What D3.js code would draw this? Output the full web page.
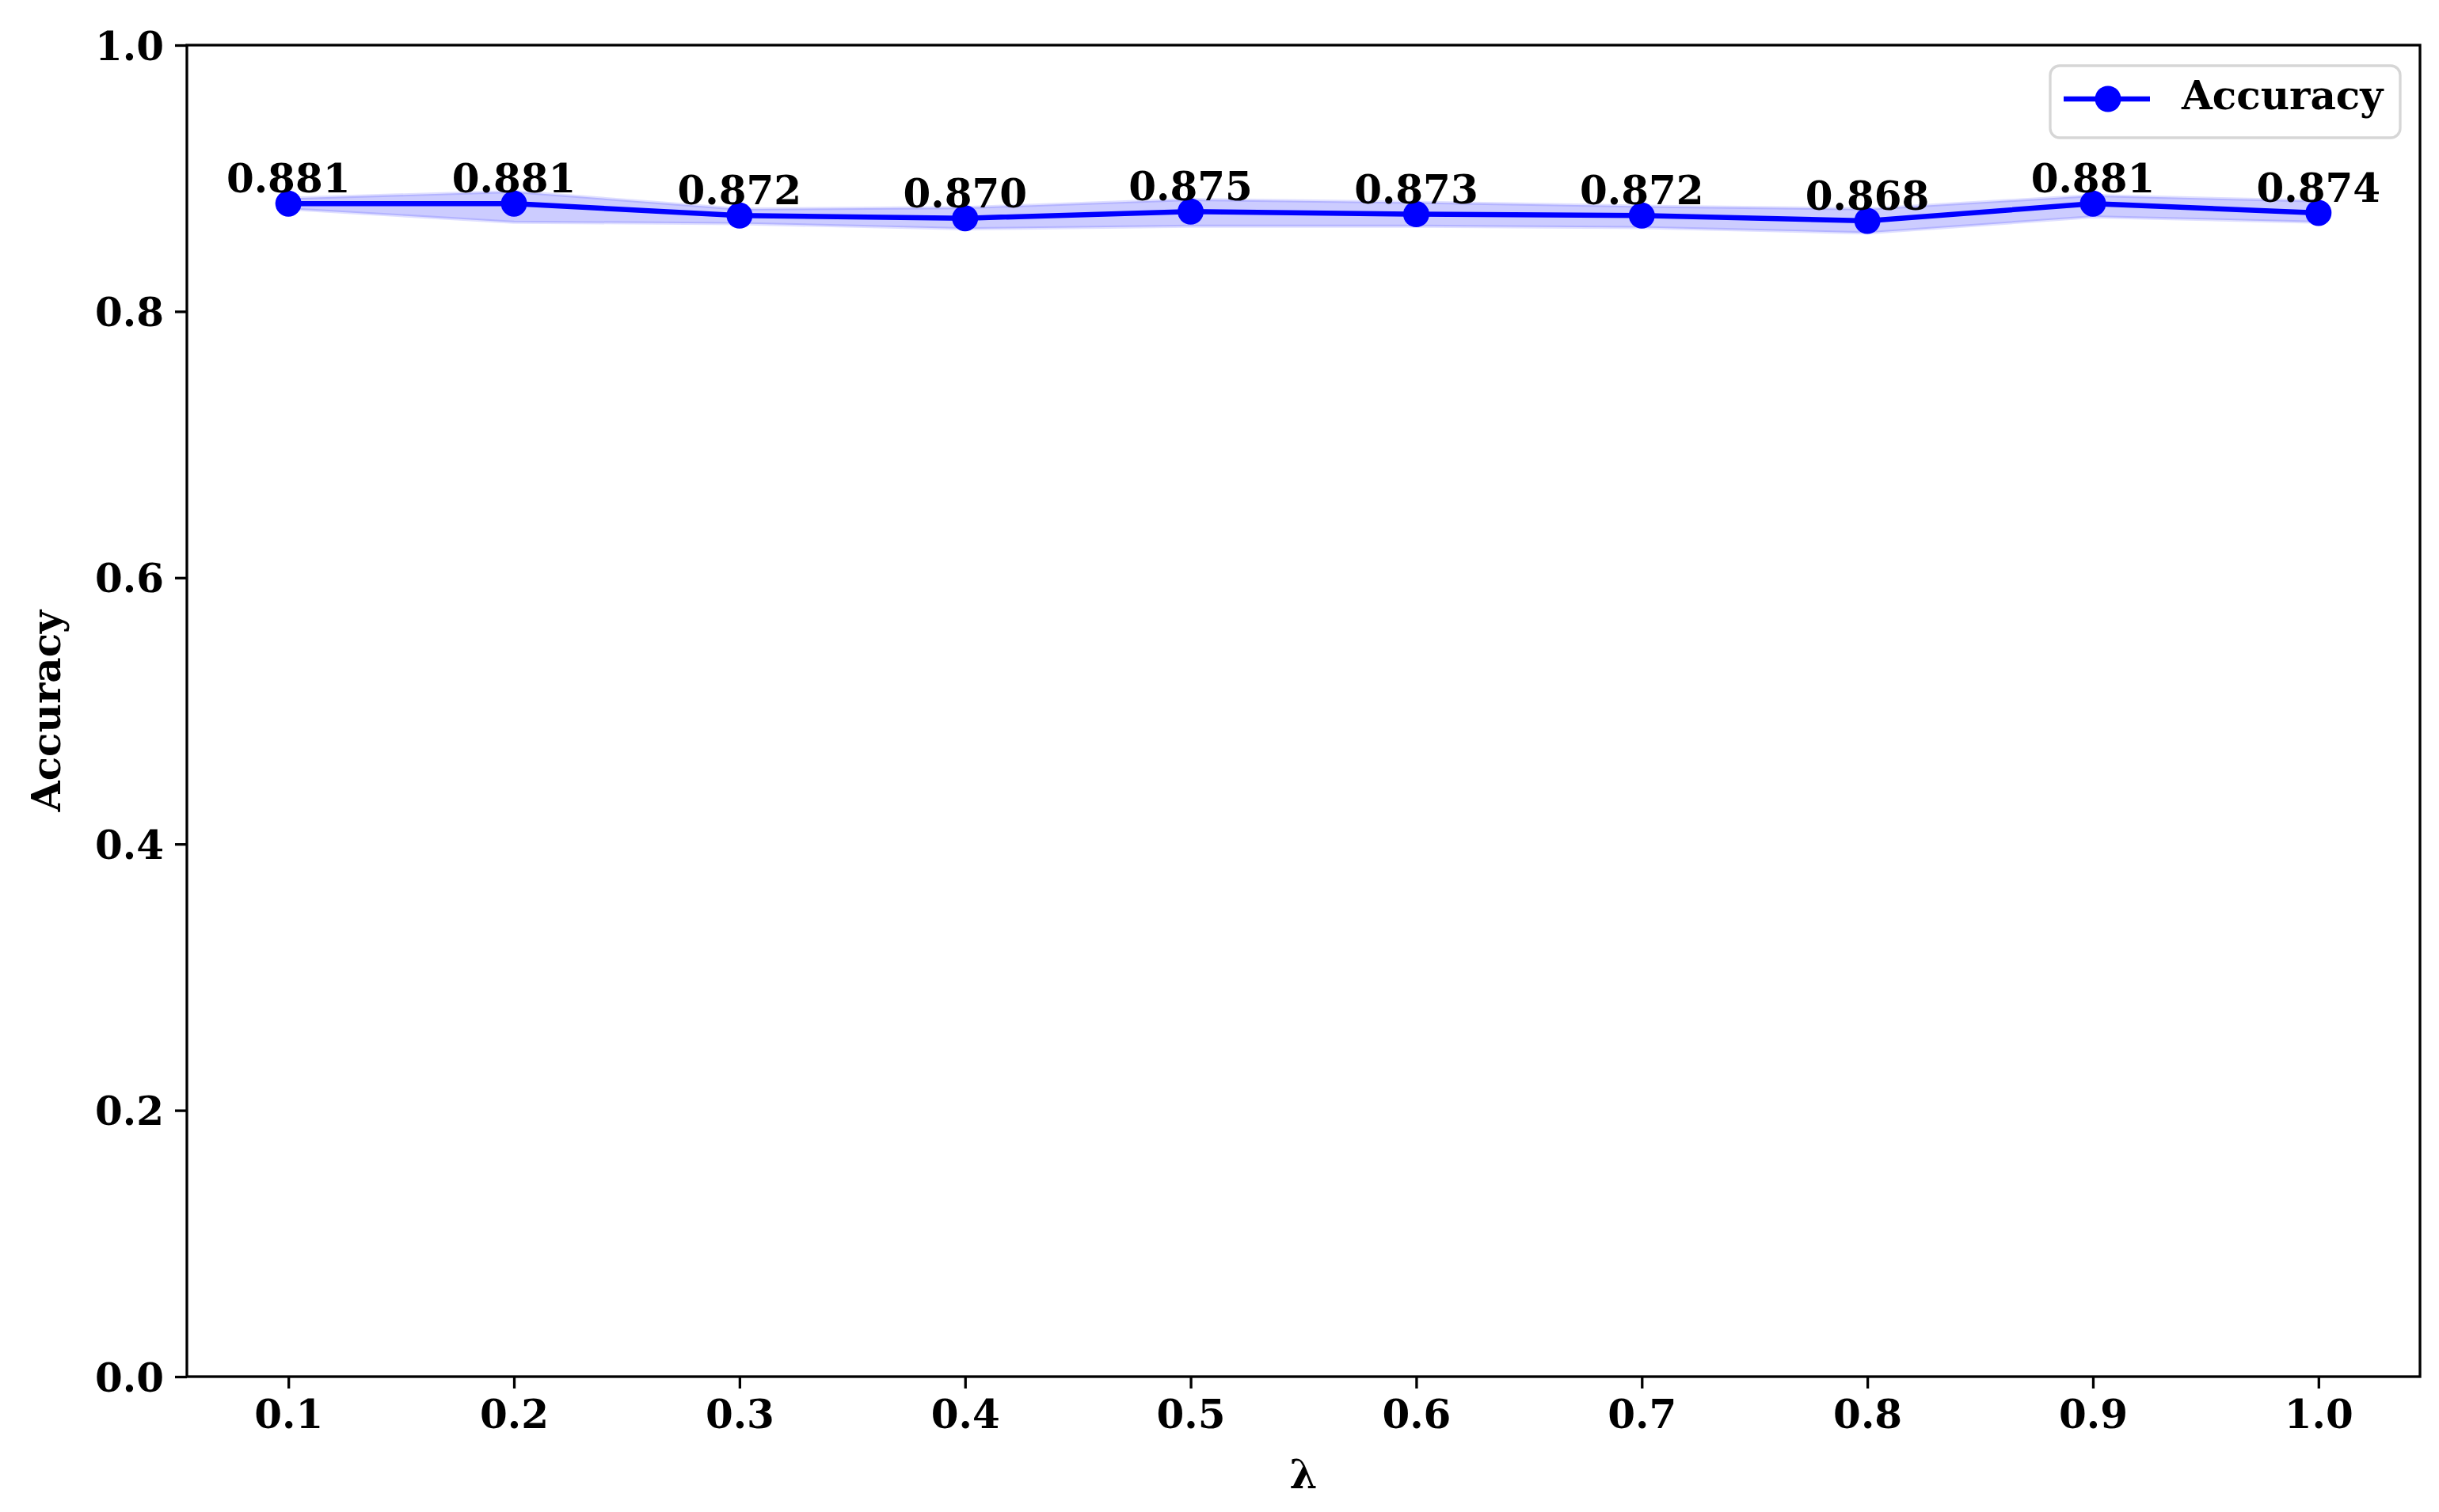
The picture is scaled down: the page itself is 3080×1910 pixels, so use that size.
<!DOCTYPE html>
<html>
<head>
<meta charset="utf-8">
<script src="https://cdn.jsdelivr.net/npm/d3@7"></script>
<style>
  body { margin: 0; background: white; }
  text { font-family: "DejaVu Serif", serif; font-weight: bold; }
</style>
</head>
<body>
<svg id="canvas" width="3080" height="1910"></svg>
<script>
//data
var lambdas = [0.1, 0.2, 0.3, 0.4, 0.5, 0.6, 0.7, 0.8, 0.9, 1.0];
var accuracy = [0.881, 0.881, 0.872, 0.870, 0.875, 0.873, 0.872, 0.868, 0.881, 0.874];
var upper = [0.885, 0.890, 0.877, 0.878, 0.884, 0.882, 0.879, 0.877, 0.887, 0.883];
var lower = [0.877, 0.867, 0.866, 0.862, 0.864, 0.864, 0.863, 0.859, 0.871, 0.867];
var xTicks = [0.1, 0.2, 0.3, 0.4, 0.5, 0.6, 0.7, 0.8, 0.9, 1.0];
var yTicks = [0.0, 0.2, 0.4, 0.6, 0.8, 1.0];

var points = lambdas.map(function(d, i) {
  return { 'x': d, 'y': accuracy[i], 'hi': upper[i], 'lo': lower[i] };
});

var canvas = d3.select('#canvas');
var width = +canvas.attr('width');
var height = +canvas.attr('height');

var margin = { 'left': 236, 'right': 24, 'top': 57, 'bottom': 171 };

//matplotlib style 5% padding on x
var xScale = d3.scaleLinear()
  .domain([0.055, 1.045])
  .range([margin.left, width - margin.right]);

var yScale = d3.scaleLinear()
  .domain([0, 1])
  .range([height - margin.bottom, margin.top]);

var blue = '#0000ff';
var fontSize = 50;

//shaded band
var band = d3.area()
  .x(function(d) { return xScale(d.x); })
  .y0(function(d) { return yScale(d.lo); })
  .y1(function(d) { return yScale(d.hi); });

canvas.append('path')
  .datum(points)
  .attr('d', band)
  .style('fill', blue)
  .style('fill-opacity', 0.2)
  .style('stroke', blue)
  .style('stroke-opacity', 0.12)
  .style('stroke-width', 4);

//main line
var line = d3.line()
  .x(function(d) { return xScale(d.x); })
  .y(function(d) { return yScale(d.y); });

canvas.append('path')
  .datum(points)
  .attr('d', line)
  .style('fill', 'none')
  .style('stroke', blue)
  .style('stroke-width', 6.5)
  .style('stroke-linejoin', 'round');

canvas.selectAll('myDots')
  .data(points)
  .enter()
  .append('circle')
  .attr('cx', function(d) { return xScale(d.x); })
  .attr('cy', function(d) { return yScale(d.y); })
  .attr('r', 16.5)
  .style('fill', blue);

//value labels above each point
canvas.selectAll('myLabels')
  .data(points)
  .enter()
  .append('text')
  .attr('x', function(d) { return xScale(d.x); })
  .attr('y', function(d) { return yScale(d.y) - 14; })
  .attr('text-anchor', 'middle')
  .style('font-size', fontSize + 'px')
  .text(function(d) { return d3.format('.3f')(d.y); });

//axes
var xAxis = d3.axisBottom()
  .scale(xScale)
  .tickValues(xTicks)
  .tickFormat(d3.format('.1f'))
  .tickSize(15)
  .tickPadding(14);

var yAxis = d3.axisLeft()
  .scale(yScale)
  .tickValues(yTicks)
  .tickFormat(d3.format('.1f'))
  .tickSize(15)
  .tickPadding(14);

var gx = canvas.append('g')
  .attr('transform', 'translate(0,' + (height - margin.bottom) + ')')
  .call(xAxis);

var gy = canvas.append('g')
  .attr('transform', 'translate(' + margin.left + ',0)')
  .call(yAxis);

[gx, gy].forEach(function(g) {
  g.select('.domain').remove();
  g.selectAll('line').style('stroke', 'black').style('stroke-width', 3.3);
  g.selectAll('text')
    .style('font-size', fontSize + 'px')
    .style('font-family', '"DejaVu Serif", serif')
    .style('font-weight', 'bold')
    .style('fill', 'black');
});
gy.selectAll('text').attr('dy', '0.36em');

//frame around the plot area
canvas.append('rect')
  .attr('x', margin.left)
  .attr('y', margin.top)
  .attr('width', width - margin.left - margin.right)
  .attr('height', height - margin.top - margin.bottom)
  .style('fill', 'none')
  .style('stroke', 'black')
  .style('stroke-width', 3.3);

//axis titles
canvas.append('text')
  .attr('x', (margin.left + width - margin.right) / 2)
  .attr('y', 1880)
  .attr('text-anchor', 'middle')
  .style('font-size', fontSize + 'px')
  .text('λ');

canvas.append('text')
  .attr('transform', 'translate(76,' + (margin.top + height - margin.bottom) / 2 + ') rotate(-90)')
  .attr('text-anchor', 'middle')
  .style('font-size', fontSize + 'px')
  .text('Accuracy');

//legend
var legend = canvas.append('g').attr('transform', 'translate(2589,83)');

legend.append('rect')
  .attr('width', 442)
  .attr('height', 91)
  .attr('rx', 12)
  .style('fill', 'white')
  .style('fill-opacity', 0.8)
  .style('stroke', '#d6d6d6')
  .style('stroke-width', 3.3);

legend.append('line')
  .attr('x1', 17).attr('x2', 126)
  .attr('y1', 42).attr('y2', 42)
  .style('stroke', blue)
  .style('stroke-width', 6.5);

legend.append('circle')
  .attr('cx', 73).attr('cy', 42).attr('r', 16.5)
  .style('fill', blue);

legend.append('text')
  .attr('x', 166)
  .attr('y', 55)
  .style('font-size', fontSize + 'px')
  .text('Accuracy');
</script>
</body>
</html>
